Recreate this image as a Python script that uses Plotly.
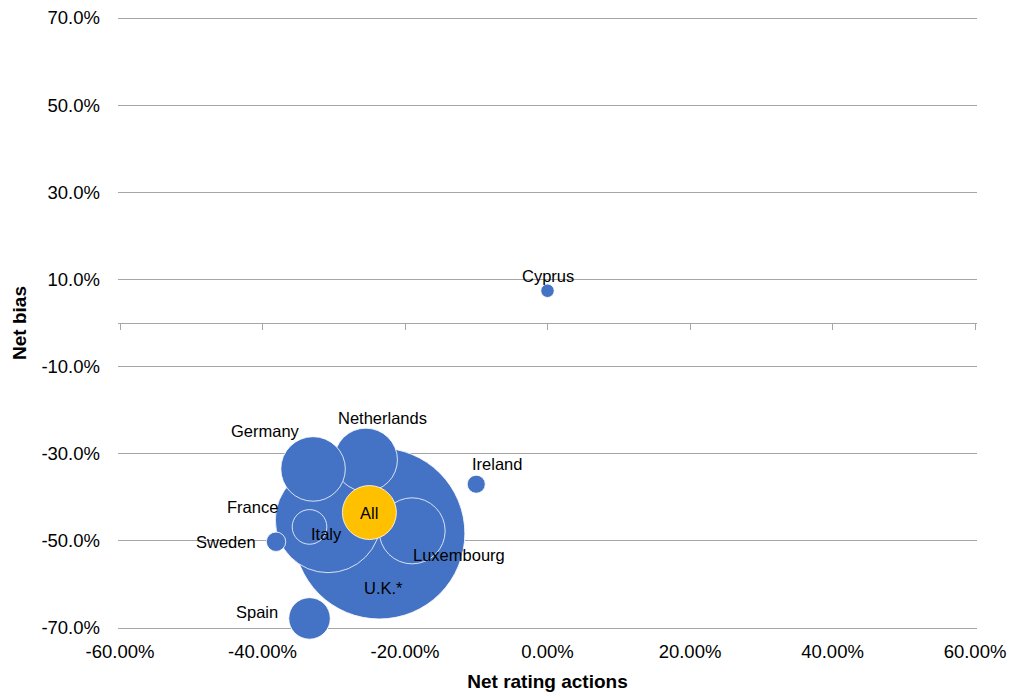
import plotly.graph_objects as go

countries = ["U.K.*", "France", "Netherlands", "Germany", "Italy", "Luxembourg",
             "Spain", "Sweden", "Ireland", "Cyprus", "All"]
net_rating_actions = [-0.236, -0.308, -0.255, -0.329, -0.334, -0.190,
                      -0.334, -0.381, -0.100, 0.000, -0.250]
net_bias = [-0.483, -0.452, -0.314, -0.335, -0.468, -0.477,
            -0.678, -0.502, -0.370, 0.074, -0.435]
bubble_size = [731, 278, 100, 104, 30, 109, 43, 9.4, 8.1, 4.5, 73]

x_ticks = [-0.6, -0.4, -0.2, 0.0, 0.2, 0.4, 0.6]
y_ticks = [-0.7, -0.5, -0.3, -0.1, 0.1, 0.3, 0.5, 0.7]
x_ticktext = [f"{v * 100:.2f}%" for v in x_ticks]
y_ticktext = [f"{v * 100:.1f}%" for v in y_ticks]

# label offsets (px) relative to each bubble centre
label_dx = [4, -76, 17, -48, 17, 47, -53, -50, 21, 0, 0]
label_dy = [55, -13, -42, -38, 7, 24, -6, 0, -20, -15, 0]

BLUE = "#4472C4"
GOLD = "#FFC000"
colors = [GOLD if c == "All" else BLUE for c in countries]

FONT = "Liberation Sans, Arial, sans-serif"
# small padding (2 px) so the outermost gridlines / ticks are drawn
pad_x = 2 * (x_ticks[-1] - x_ticks[0]) / 855
pad_y = 2 * (y_ticks[-1] - y_ticks[0]) / 610
xr = [x_ticks[0] - pad_x, x_ticks[-1] + pad_x]
yr = [y_ticks[0] - pad_y, y_ticks[-1] + pad_y]

fig = go.Figure()
fig.add_trace(go.Scatter(
    x=net_rating_actions, y=net_bias, mode="markers",
    marker=dict(size=bubble_size, sizemode="area", sizeref=0.05,
                color=colors, opacity=1,
                line=dict(color="white", width=0.8)),
    hoverinfo="text", text=countries, showlegend=False, cliponaxis=False,
))

# axis line crossing at y = 0 with tick marks
fig.add_trace(go.Scatter(x=[x_ticks[0], x_ticks[-1]], y=[0, 0], xaxis="x2",
                         mode="lines", line=dict(width=0), showlegend=False,
                         hoverinfo="skip"))

for c, x, y, dx, dy in zip(countries, net_rating_actions, net_bias, label_dx, label_dy):
    fig.add_annotation(x=x, y=y, text=c, showarrow=False, xshift=dx, yshift=-dy,
                       font=dict(family=FONT, size=16.5, color="black"))

fig.update_layout(
    width=1009, height=693,
    margin=dict(l=118, r=32, t=16, b=63),
    paper_bgcolor="white", plot_bgcolor="white",
    font=dict(family=FONT, color="black"),
    xaxis=dict(range=xr, tickvals=x_ticks, ticktext=x_ticktext, automargin=False,
               showgrid=False, zeroline=False, showline=False, ticks="",
               tickfont=dict(size=18.5), ticklabelstandoff=8,
               title=dict(text="<b>Net rating actions</b>", font=dict(size=19), standoff=14)),
    xaxis2=dict(range=xr, tickvals=x_ticks, overlaying="x",
                anchor="free", position=0.5, side="bottom",
                showline=True, linecolor="#A6A6A6", linewidth=1.3,
                ticks="outside", ticklen=6, tickcolor="#A6A6A6", tickwidth=1.3,
                showticklabels=False, showgrid=False, zeroline=False),
    yaxis=dict(range=yr, tickvals=y_ticks, ticktext=y_ticktext, automargin=False,
               showgrid=True, gridcolor="#A6A6A6", gridwidth=1.3,
               zeroline=False, showline=False, ticks="",
               tickfont=dict(size=18.5), ticklabelstandoff=17,
               title=dict(text="<b>Net bias</b>", font=dict(size=19), standoff=9)),
)

fig.write_html(
    "out.html",
    config={"displayModeBar": False},
    post_script="document.body.style.margin='0';document.body.style.overflow='hidden';",
)
